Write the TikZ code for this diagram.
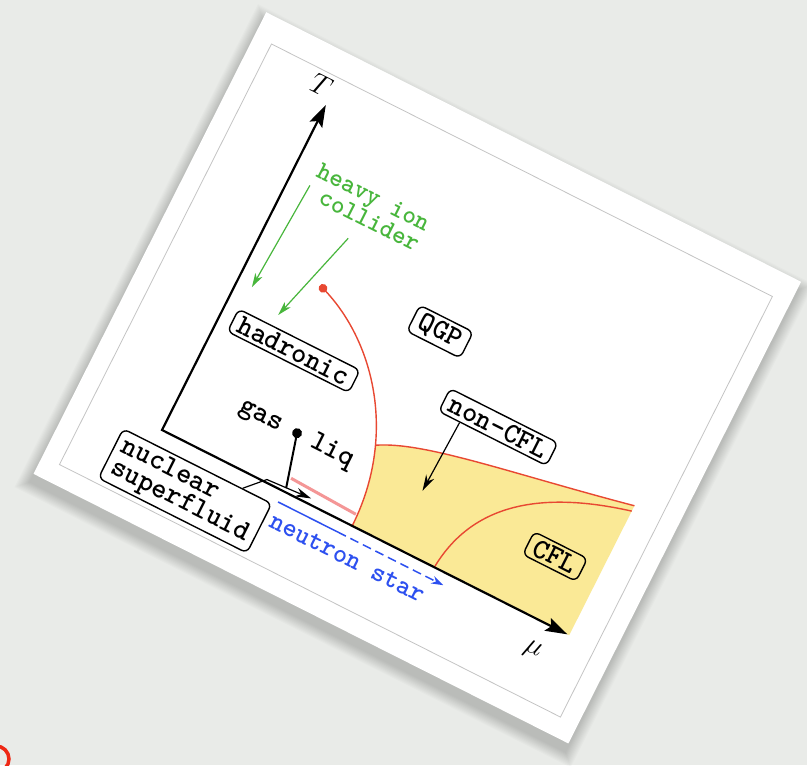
\documentclass[tikz,border=0pt]{standalone}
\usepackage{fontspec}
\usetikzlibrary{arrows.meta,calc}

\definecolor{bgpaper}{RGB}{233,235,232}
\definecolor{phaseyellow}{RGB}{250,233,150}
\definecolor{transred}{RGB}{232,72,50}
\definecolor{nucpink}{RGB}{244,150,150}
\definecolor{hicgreen}{RGB}{72,182,60}
\definecolor{nsblue}{RGB}{45,80,240}
\definecolor{framegray}{RGB}{196,196,196}
\definecolor{markred}{RGB}{238,40,20}

\tikzset{
  boxlabel/.style={draw=black, line width=0.7pt, rounded corners=3pt,
    inner xsep=3.5pt, inner ysep=1.8pt, text=black,
    font=\fontsize{14.5}{12}\selectfont\ttfamily\bfseries},
  plainlabel/.style={inner sep=0pt, text=black,
    font=\fontsize{14.5}{12}\selectfont\ttfamily\bfseries},
  greenlabel/.style={inner sep=0pt, text=hicgreen,
    font=\fontsize{13}{11.5}\selectfont\ttfamily\bfseries},
  bluelabel/.style={inner sep=0pt, text=nsblue,
    font=\fontsize{13.5}{13.5}\selectfont\ttfamily\bfseries},
  axislabel/.style={inner sep=0pt, font=\fontsize{14.4}{14.4}\selectfont},
  axisline/.style={line width=1.1pt,
    arrows={Stealth[length=11pt,width=7pt,inset=2pt]-Stealth[length=11pt,width=7pt,inset=2pt]}},
  phaseline/.style={transred, line width=0.7pt},
  pointer/.style={line width=0.6pt, arrows={-Stealth[length=8pt,width=4.5pt]}},
  hicarrow/.style={hicgreen, line width=0.6pt,
    arrows={-Stealth[length=7pt,width=4pt,inset=2pt]}},
  nsline/.style={nsblue, line width=0.75pt},
}

\begin{document}
\begin{tikzpicture}[x=0.5pt,y=0.5pt]
  \useasboundingbox (0,0) rectangle (807,-765);
  \fill[bgpaper] (0,0) rectangle (807,-765);
  \draw[markred, line width=1.75pt] (-4,-759) circle[radius=6.5pt];

  % the tilted card carrying the phase diagram
  \begin{scope}[shift={(162,-430)}, rotate=-26.75, transform shape]
    % soft drop shadow
    \foreach \i in {1,...,12}
      \fill[black, opacity=0.015] ({-95-\i+0.9},{-97-\i-8.5}) rectangle ({504+\i+0.9},{420+\i-8.5});
    \fill[white] (-95,-97) rectangle (504,420);
    \draw[framegray, line width=0.4pt] (-76,-77) rectangle (485,394);

    % colour superconducting region
    \fill[phaseyellow] (197.5,82.5) .. controls (240,108) and (330,118) .. (456,145)
      -- (456,0) -- (213,0) .. controls (213,30) and (207.3,57.75) .. (197.5,82.5) -- cycle;

    % phase boundaries
    \coordinate (crit) at (80,199);
    \coordinate (junc) at (197.5,82.5);
    \coordinate (foot) at (213,0);
    \coordinate (topright) at (456,145);
    \coordinate (cflfoot) at (305,0);
    \coordinate (cflend) at (456,139);
    \draw[phaseline] (crit) .. controls (129,182.2) and (174.6,140.4) .. (junc)
      .. controls (207.3,57.75) and (213,30) .. (foot);
    \draw[phaseline] (junc) .. controls (240,108) and (330,118) .. (topright);
    \draw[phaseline] (cflfoot) .. controls (310,70) and (360,115) .. (cflend);
    \fill[transred] (crit) circle[radius=2.2pt];

    % nuclear superfluid boundary
    \coordinate (pinkA) at (137,15);
    \coordinate (pinkB) at (211,12);
    \draw[nucpink, line width=1.5pt] (pinkA) -- (pinkB);

    % axes
    \coordinate (O) at (0,0);
    \coordinate (Tend) at (0,364);
    \coordinate (Muend) at (454,0);
    \draw[axisline] (Tend) -- (O) -- (Muend);
    \node[axislabel] (Tlab) at (-13,380) {$T$};
    \node[axislabel] (mulab) at (430,-30) {$\mu$};

    % heavy ion collider trajectories
    \node[greenlabel, align=right] (hic) at (84,292) {heavy ion\\collider};
    \coordinate (g1s) at (22,285);
    \coordinate (g1e) at (16,168);
    \coordinate (g2s) at (80,255);
    \coordinate (g2e) at (52,155);
    \draw[hicarrow] (g1s) -- (g1e);
    \draw[hicarrow] (g2s) -- (g2e);

    % phase labels
    \node[boxlabel] (had) at (82,130) {hadronic};
    \node[boxlabel] (qgp) at (204,213) {QGP};
    \node[boxlabel] (ncfl) at (299,154) {non-CFL};
    \node[boxlabel] (cfl) at (408,64) {CFL};
    \node[boxlabel, align=left] (nsf) at (48,-44) {nuclear\\superfluid};

    \coordinate (ncfltip) at (260,63);
    \draw[pointer] ($(ncfl.south west)!0.2!(ncfl.south east)$) -- (ncfltip);

    % nuclear liquid-gas transition
    \node[plainlabel] (gas) at (82,55) {gas};
    \node[plainlabel] (liq) at (162,57) {liq};
    \coordinate (cep) at (122,58);
    \coordinate (lgfoot) at (137,4);
    \draw[line width=1pt] (lgfoot) -- (cep);
    \fill (cep) circle[radius=2.5pt];

    \coordinate (nsknee) at (116,3);
    \coordinate (nstip) at (164,6);
    \draw[pointer] ($(nsf.north west)!0.8!(nsf.north east)$) -- (nsknee) -- (nstip);

    % neutron star
    \coordinate (nsstart) at (136,-12);
    \coordinate (nsmid) at (203,-12);
    \coordinate (nsend) at (321,-12);
    \draw[nsline] (nsstart) -- (nsmid);
    \draw[nsline, dash pattern=on 4.5pt off 2.5pt, arrows={-Stealth[length=6pt,width=4pt]}] (nsmid) -- (nsend);
    \node[bluelabel] (nslab) at (223,-31) {neutron star};
  \end{scope}
\end{tikzpicture}
\end{document}
